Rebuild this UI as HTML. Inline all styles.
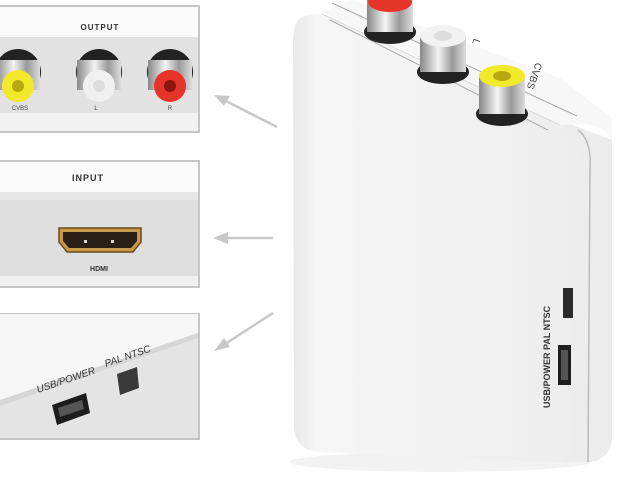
<!DOCTYPE html>
<html><head><style>html,body{margin:0;padding:0;background:#fff}svg{display:block}</style></head>
<body>
<svg width="640" height="480" viewBox="0 0 640 480" xmlns="http://www.w3.org/2000/svg" font-family="Liberation Sans, sans-serif">
<defs>
<linearGradient id="g1" x1="0" x2="1"><stop offset="0" stop-color="#e8e8e8"/><stop offset="0.08" stop-color="#f6f6f6"/><stop offset="1" stop-color="#ededed"/></linearGradient>
<linearGradient id="met" x1="0" x2="1"><stop offset="0" stop-color="#888"/><stop offset="0.4" stop-color="#f4f4f4"/><stop offset="0.7" stop-color="#999"/><stop offset="1" stop-color="#ddd"/></linearGradient>
</defs>
<!-- Panel 1 -->
<rect x="-2" y="6" width="201" height="126" fill="#f2f2f2" stroke="#c6c6c6" stroke-width="2"/>
<rect x="0" y="7" width="198" height="30" fill="#fafafa"/>
<rect x="0" y="37" width="198" height="76" fill="#e2e2e2"/>
<text x="100" y="30" font-size="8" font-weight="bold" fill="#333" text-anchor="middle" letter-spacing="1">OUTPUT</text>
<g>
<circle cx="18" cy="72" r="23" fill="#222"/><rect x="-4" y="60" width="44" height="30" fill="url(#met)"/><circle cx="18" cy="86" r="16" fill="#f1e92a"/><circle cx="18" cy="86" r="6" fill="#b8a810"/>
<circle cx="99" cy="72" r="23" fill="#222"/><rect x="77" y="60" width="44" height="30" fill="url(#met)"/><circle cx="99" cy="86" r="16" fill="#f0f0f0"/><circle cx="99" cy="86" r="6" fill="#ddd"/>
<circle cx="170" cy="72" r="23" fill="#222"/><rect x="148" y="60" width="44" height="30" fill="url(#met)"/><circle cx="170" cy="86" r="16" fill="#e63528"/><circle cx="170" cy="86" r="6" fill="#8b1510"/>
</g>
<text x="20" y="110" font-size="6" fill="#444" text-anchor="middle">CVBS</text>
<text x="96" y="110" font-size="6" fill="#444" text-anchor="middle">L</text>
<text x="170" y="110" font-size="6" fill="#444" text-anchor="middle">R</text>
<!-- Panel 2 -->
<rect x="-2" y="161" width="201" height="126" fill="#f0f0f0" stroke="#c6c6c6" stroke-width="2"/>
<rect x="0" y="162" width="198" height="30" fill="#fafafa"/>
<rect x="0" y="192" width="198" height="8" fill="#e6e6e6"/>
<rect x="0" y="200" width="198" height="76" fill="#dedede"/>
<text x="88" y="181" font-size="9" font-weight="bold" fill="#333" text-anchor="middle" letter-spacing="1">INPUT</text>
<path d="M59 228 h82 v14 l-8 10 h-66 l-8 -10 z" fill="#c89a4a" stroke="#6a4a1a" stroke-width="1.5"/>
<path d="M63 232 h74 v9 l-6 7 h-62 l-6 -7 z" fill="#2a2018"/>
<rect x="84" y="240" width="3" height="3" fill="#ddd"/><rect x="111" y="240" width="3" height="3" fill="#ddd"/>
<text x="99" y="271" font-size="7" font-weight="bold" fill="#333" text-anchor="middle">HDMI</text>
<!-- Panel 3 -->
<rect x="-2" y="314" width="201" height="125" fill="#ececec" stroke="#c6c6c6" stroke-width="2"/>
<polygon points="0,314 198,314 198,333 0,400" fill="#f6f6f6"/>
<polygon points="0,400 198,333 198,338 0,406" fill="#d6d6d6"/>
<polygon points="0,406 198,338 198,438 0,438" fill="#e4e4e4"/>
<text transform="translate(38,393) rotate(-19)" font-size="10" fill="#333" font-style="italic">USB/POWER</text>
<text transform="translate(106,367) rotate(-19)" font-size="10" fill="#333" font-style="italic">PAL NTSC</text>
<polygon points="52,405 86,393 90,413 57,425" fill="#1c1c1c"/>
<polygon points="58,408 82,400 84,409 60,417" fill="#555"/>
<polygon points="117,374 137,367 139,388 120,395" fill="#3a3a3a"/>
<!-- Arrows -->
<g stroke="#c8c8c8" stroke-width="2.5" fill="#c8c8c8">
<line x1="277" y1="127" x2="222" y2="99"/><polygon points="214,95 230,96 224,106" stroke="none"/>
<line x1="273" y1="238" x2="222" y2="238"/><polygon points="213,238 228,232 228,244" stroke="none"/>
<line x1="273" y1="313" x2="222" y2="346"/><polygon points="214,351 224,338 230,347" stroke="none"/>
</g>
<!-- Device -->
<ellipse cx="440" cy="462" rx="150" ry="10" fill="#f2f2f2"/>
<path d="M612 140 L612 440 Q610 458 592 462 L560 462 L560 120 Z" fill="#ececec"/>
<path d="M322 12 L352 0 L560 78 L612 118 L612 140 Q605 126 585 124 L560 125 Z" fill="#f7f7f7"/>
<path d="M300 18 Q310 12 322 14 L560 125 Q575 132 578 150 L572 450 Q570 464 555 462 L318 452 Q296 450 294 428 L293 40 Q294 22 300 18 Z" fill="url(#g1)"/>
<path d="M322 14 L560 125" stroke="#d8d8d8" stroke-width="1" fill="none"/>
<path d="M578 130 Q592 140 590 170 L588 462" stroke="#bbb" stroke-width="1.5" fill="none"/>
<line x1="330" y1="20" x2="548" y2="130" stroke="#aaa" stroke-width="1"/>
<line x1="332" y1="3" x2="577" y2="116" stroke="#aaa" stroke-width="1"/>
<!-- jacks on top -->
<g>
<ellipse cx="390" cy="32" rx="26" ry="12" fill="#222"/><rect x="367" y="0" width="46" height="32" fill="url(#met)"/><ellipse cx="390" cy="2" rx="22" ry="10" fill="#e63528"/>
<ellipse cx="443" cy="72" rx="26" ry="12" fill="#222"/><rect x="420" y="36" width="46" height="36" fill="url(#met)"/><ellipse cx="443" cy="36" rx="23" ry="11" fill="#f2f2f2"/><ellipse cx="443" cy="36" rx="9" ry="5" fill="#ddd"/>
<ellipse cx="502" cy="114" rx="26" ry="12" fill="#222"/><rect x="479" y="76" width="46" height="38" fill="url(#met)"/><ellipse cx="502" cy="76" rx="23" ry="11" fill="#f1e92a"/><ellipse cx="502" cy="76" rx="9" ry="5" fill="#b8a810"/>
</g>
<text transform="translate(536,62) rotate(110)" font-size="10" fill="#444">CVBS</text>
<text transform="translate(474,38) rotate(110)" font-size="10" fill="#444">L</text>
<!-- side labels -->
<text transform="translate(550,408) rotate(-90)" font-size="9" font-weight="bold" fill="#333">USB/POWER PAL NTSC</text>
<rect x="563" y="288" width="10" height="30" fill="#2a2a2a"/>
<rect x="558" y="345" width="13" height="40" fill="#1e1e1e"/>
<rect x="561" y="350" width="7" height="30" fill="#555"/>
</svg>
</body></html>
